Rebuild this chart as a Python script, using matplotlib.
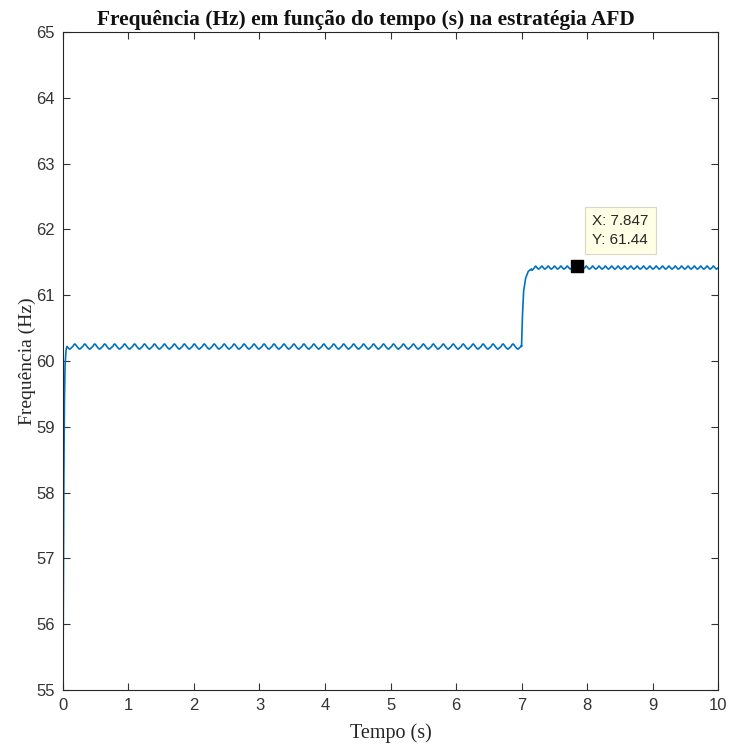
import numpy as np
import matplotlib.pyplot as plt

# ------------------------------------------------------------
# Data
# ------------------------------------------------------------
# envelope of the frequency (Hz) vs time (s)
env_t = [0.0, 0.01, 0.02, 0.03, 0.045, 0.06, 7.0, 7.01, 7.03, 7.06, 7.10, 7.15, 7.22, 10.0]
env_f = [55.0, 57.6, 59.2, 59.9, 60.15, 60.22, 60.22, 60.6, 61.05, 61.25, 61.36, 61.40, 61.42, 61.42]

# ripple on top of the envelope (one period, Hz)
ripple_shape = [0.0, 0.03, 0.04, 0.025, 0.0, -0.015, -0.035, -0.04, -0.025, -0.01]
ripple_period_before = 0.152  # s, before the step
ripple_period_after = 0.097   # s, after the step
ripple_gain_after = 0.6
t_step = 7.0

tip_x, tip_y = 7.847, 61.44

# ------------------------------------------------------------
# Build signal
# ------------------------------------------------------------
t = np.arange(0, 10.0005, 0.0005)
f = np.interp(t, env_t, env_f)

shape = np.array(ripple_shape + [ripple_shape[0]])
phase_pts = np.linspace(0, 1, len(shape))
phase = np.where(t < t_step, t / ripple_period_before, (t - t_step) / ripple_period_after) % 1.0
rip = np.interp(phase, phase_pts, shape)
gain = np.where(t < t_step, 1.0, ripple_gain_after)
gain = gain * np.clip((t - 0.05) / 0.02, 0, 1)
gain = gain * np.where((t > t_step) & (t < t_step + 0.15), 0.0, 1.0)
f = f + rip * gain

# ------------------------------------------------------------
# Plot
# ------------------------------------------------------------
fig = plt.figure(figsize=(7.32, 7.49), dpi=100)
ax = fig.add_axes([0.086, 0.0788, 0.895, 0.8785])

ax.plot(t, f, color="#0072BD", linewidth=1.2)
ax.plot(tip_x, tip_y, marker="s", color="black", markersize=8, linestyle="none")

ax.annotate(f"X: {tip_x}\nY: {tip_y}", xy=(tip_x, tip_y), xytext=(11, 14),
            textcoords="offset points", ha="left", va="bottom",
            fontsize=11, family="Liberation Sans", color="#262626", linespacing=1.45,
            bbox=dict(boxstyle="square,pad=0.45", fc="#FFFFE6", ec="#D8D8C8", lw=0.8))

ax.set_xlim(0, 10)
ax.set_ylim(55, 65)
ax.set_xticks(range(0, 11))
ax.set_yticks(range(55, 66))

ax.tick_params(direction="in", top=True, right=True, length=5, width=0.8,
               labelsize=12, colors="#333333")
ax.tick_params(axis="x", pad=6)
ax.tick_params(axis="y", pad=6)
for lbl in ax.get_xticklabels() + ax.get_yticklabels():
    lbl.set_family("Liberation Sans")
for s in ax.spines.values():
    s.set_color("#262626")
    s.set_linewidth(0.8)

ax.set_xlabel("Tempo (s)", family="Liberation Serif", fontsize=14.5, color="#262626", labelpad=7)
ax.set_ylabel("Frequência (Hz)", family="Liberation Serif", fontsize=14, color="#262626", labelpad=0)
ax.set_title("Frequência (Hz) em função do tempo (s) na estratégia AFD",
             family="Liberation Serif", fontweight="bold", fontsize=15.4, color="#111111",
             x=0.463, pad=5)

fig.savefig("out.png", dpi=100)
